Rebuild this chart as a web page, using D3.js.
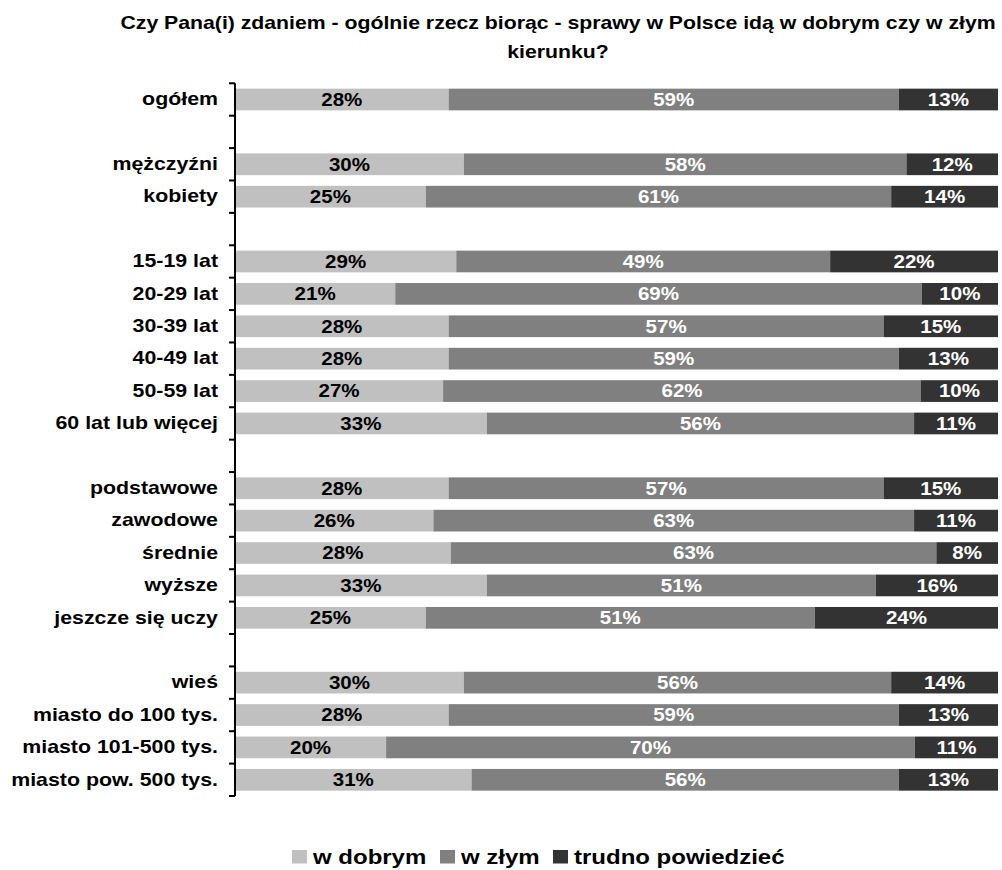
<!DOCTYPE html>
<html>
<head>
<meta charset="utf-8">
<script src="https://cdn.jsdelivr.net/npm/d3@7"></script>
<style>
  html, body { margin: 0; padding: 0; background: #fff; }
  svg { display: block; font-family: "Liberation Sans", Arial, sans-serif; }
</style>
</head>
<body>
<svg id="chart" width="1002" height="870"></svg>
<script>
const titleLines = ["Czy Pana(i) zdaniem - ogólnie rzecz biorąc - sprawy w Polsce idą w dobrym czy w złym", "kierunku?"];
const categories = ["ogółem", "", "mężczyźni", "kobiety", "", "15-19 lat", "20-29 lat", "30-39 lat", "40-49 lat", "50-59 lat", "60 lat lub więcej", "", "podstawowe", "zawodowe", "średnie", "wyższe ", "jeszcze się uczy", "", "wieś", "miasto do 100 tys.", "miasto 101-500 tys.", "miasto pow. 500 tys."];
const seriesNames = ["w dobrym", "w złym", "trudno powiedzieć"];
const wDobrym = [28, null, 30, 25, null, 29, 21, 28, 28, 27, 33, null, 28, 26, 28, 33, 25, null, 30, 28, 20, 31];
const wZlym   = [59, null, 58, 61, null, 49, 69, 57, 59, 62, 56, null, 57, 63, 63, 51, 51, null, 56, 59, 70, 56];
const trudno  = [13, null, 12, 14, null, 22, 10, 15, 13, 10, 11, null, 15, 11, 8, 16, 24, null, 14, 13, 11, 13];
const colors = ["#c0c0c0", "#808080", "#333333"];
const labelColors = ["#000000", "#ffffff", "#ffffff"];

const rows = categories.map((c, i) => ({
  id: "r" + i, name: c, blank: wDobrym[i] === null,
  "w dobrym": wDobrym[i] || 0, "w złym": wZlym[i] || 0, "trudno powiedzieć": trudno[i] || 0
}));

const svg = d3.select("#chart");
const x = d3.scaleLinear().domain([0, 1]).range([235, 998]);
const y = d3.scaleBand().domain(rows.map(r => r.id)).range([83.3, 796]).paddingInner(0.33).paddingOuter(0.165);

const stack = d3.stack().keys(seriesNames).offset(d3.stackOffsetExpand);
const stacked = stack(rows.filter(r => !r.blank));

// title (horizontally stretched text like the reference)
svg.append("g").selectAll("text").data(titleLines).join("text")
  .attr("transform", (d, i) => `translate(558,${29 + i * 28.5}) scale(1.18,1)`)
  .attr("text-anchor", "middle")
  .attr("font-size", 18).attr("font-weight", "bold").attr("fill", "#000")
  .text(d => d);

// bars
const layers = svg.append("g").selectAll("g").data(stacked).join("g")
  .attr("fill", (d, i) => colors[i]);
layers.selectAll("rect").data(d => d).join("rect")
  .attr("x", d => x(d[0]))
  .attr("width", d => x(d[1]) - x(d[0]))
  .attr("y", d => y(d.data.id))
  .attr("height", y.bandwidth());

// value labels
stacked.forEach((layer, li) => {
  svg.append("g").selectAll("text").data(layer).join("text")
    .attr("transform", d => `translate(${(x(d[0]) + x(d[1])) / 2},${y(d.data.id) + y.bandwidth() / 2 + 6.3}) scale(1.14,1)`)
    .attr("text-anchor", "middle")
    .attr("font-size", 18).attr("font-weight", "bold")
    .attr("fill", labelColors[li])
    .text(d => d.data[layer.key] + "%");
});

// axis: line with ticks at band boundaries
const step = y.step();
const boundaries = rows.map(r => y(r.id) - y.paddingOuter() * step).concat([796]);
const axisG = svg.append("g").attr("stroke", "#000").attr("stroke-width", 2);
axisG.append("line").attr("x1", 235).attr("x2", 235).attr("y1", 83.3).attr("y2", 796);
axisG.selectAll("line.tick").data(boundaries).join("line").attr("class", "tick")
  .attr("x1", 229).attr("x2", 235).attr("y1", d => d).attr("y2", d => d);

// category labels
svg.append("g").selectAll("text").data(rows.filter(r => !r.blank)).join("text")
  .attr("transform", d => `translate(218,${y(d.id) + y.bandwidth() / 2 + 5.8}) scale(1.22,1)`)
  .attr("text-anchor", "end")
  .attr("font-size", 17.5).attr("font-weight", "bold").attr("fill", "#000")
  .text(d => d.name);

// legend
const legendX = [292, 440, 553];
const lg = svg.append("g");
seriesNames.forEach((s, i) => {
  lg.append("rect").attr("x", legendX[i]).attr("y", 850).attr("width", 15).attr("height", 13.5).attr("fill", colors[i]);
  lg.append("text").attr("transform", `translate(${legendX[i] + 21},864) scale(1.2,1)`)
    .attr("font-size", 20).attr("font-weight", "bold").attr("fill", "#000").text(s);
});
</script>
</body>
</html>
